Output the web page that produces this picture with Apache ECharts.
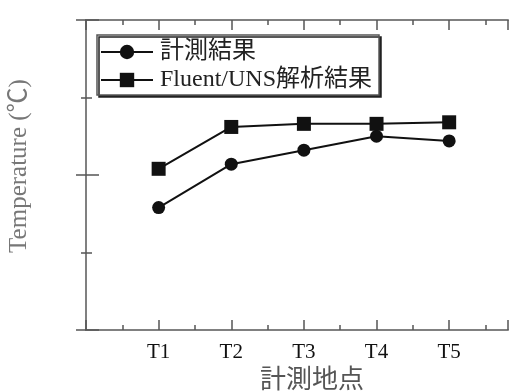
<!DOCTYPE html>
<html>
<head>
<meta charset="utf-8">
<script src="https://cdn.jsdelivr.net/npm/echarts@6/dist/echarts.min.js"></script>
<style>html,body{margin:0;padding:0;background:#fff}#c{width:509px;height:392px}</style>
</head>
<body>
<div id="c"></div>
<script>
var categories = ['T1', 'T2', 'T3', 'T4', 'T5'];
var measured = [27.9, 30.7, 31.6, 32.5, 32.2];
var simulated = [30.4, 33.1, 33.3, 33.3, 33.4];
var seriesNames = ['計測結果', 'Fluent/UNS解析結果'];
var xName = '計測地点';
var yName = 'Temperature (℃)';

function toPoints(arr) {
  return arr.map(function (v, i) { return [i + 1, v]; });
}

var serif = '"Liberation Serif", "Noto Sans CJK JP", serif';
var axisLineStyle = { color: '#808080', width: 2 };
var tickStyle = { color: '#555', width: 1.5 };

var chart = echarts.init(document.getElementById('c'), null, { renderer: 'canvas' });
chart.setOption({
  animation: false,
  backgroundColor: '#fff',
  grid: { left: 86, right: 1, top: 20, bottom: 62, containLabel: false, outerBoundsMode: 'none' },
  legend: {
    orient: 'vertical',
    left: 97,
    top: 35,
    padding: [5, 7, 3, 3],
    itemWidth: 52,
    itemHeight: 18,
    itemGap: 4,
    borderColor: '#555',
    borderWidth: 1.5,
    backgroundColor: '#fff',
    shadowColor: '#222',
    shadowBlur: 0,
    shadowOffsetX: 2,
    shadowOffsetY: 2,
    textStyle: { fontFamily: serif, fontSize: 24, color: '#222', padding: [0, 0, 0, 2] },
    data: seriesNames
  },
  xAxis: [{
    type: 'value', min: 0, max: 5.81, interval: 1,
    position: 'bottom',
    name: xName, nameLocation: 'middle', nameGap: 38,
    nameTextStyle: { fontFamily: serif, fontSize: 26, color: '#555', padding: [0, 0, 0, 30] },
    axisLine: { show: true, lineStyle: axisLineStyle },
    axisTick: { show: true, inside: true, length: 10, lineStyle: tickStyle },
    minorTick: { show: true, splitNumber: 2, length: 5, lineStyle: tickStyle },
    splitLine: { show: false },
    axisLabel: {
      margin: 12, fontFamily: serif, fontSize: 21, color: '#111',
      showMaxLabel: false,
      formatter: function (v) { return (v >= 1 && v <= categories.length && v === Math.round(v)) ? categories[v - 1] : ''; }
    }
  }, {
    type: 'value', min: 0, max: 5.81, interval: 1,
    position: 'top',
    axisLine: { show: true, lineStyle: axisLineStyle },
    axisTick: { show: true, inside: true, length: 10, lineStyle: tickStyle },
    minorTick: { show: true, splitNumber: 2, length: 5, lineStyle: tickStyle },
    splitLine: { show: false },
    axisLabel: { show: false }
  }],
  yAxis: [{
    type: 'value', min: 20, max: 40, interval: 10,
    position: 'left',
    name: yName, nameLocation: 'middle', nameGap: 54, nameRotate: 90,
    nameTextStyle: { fontFamily: serif, fontSize: 25, color: '#777', padding: [0, 0, 0, 18] },
    axisLine: { show: true, lineStyle: axisLineStyle },
    axisTick: { show: true, inside: true, length: 13, lineStyle: tickStyle },
    minorTick: { show: true, splitNumber: 2, length: 6, lineStyle: tickStyle },
    splitLine: { show: false },
    axisLabel: { show: false }
  }, {
    type: 'value', min: 20, max: 40, interval: 10,
    position: 'right',
    axisLine: { show: true, lineStyle: axisLineStyle },
    axisTick: { show: true, inside: true, length: 10, lineStyle: tickStyle },
    minorTick: { show: true, splitNumber: 2, length: 5, lineStyle: tickStyle },
    splitLine: { show: false },
    axisLabel: { show: false }
  }],
  series: [{
    name: seriesNames[0],
    type: 'line',
    data: toPoints(measured),
    symbol: 'circle',
    symbolSize: 13,
    lineStyle: { color: '#111', width: 2 },
    itemStyle: { color: '#111' }
  }, {
    name: seriesNames[1],
    type: 'line',
    data: toPoints(simulated),
    symbol: 'rect',
    symbolSize: 14,
    lineStyle: { color: '#111', width: 2 },
    itemStyle: { color: '#111' }
  }]
});
</script>
</body>
</html>
